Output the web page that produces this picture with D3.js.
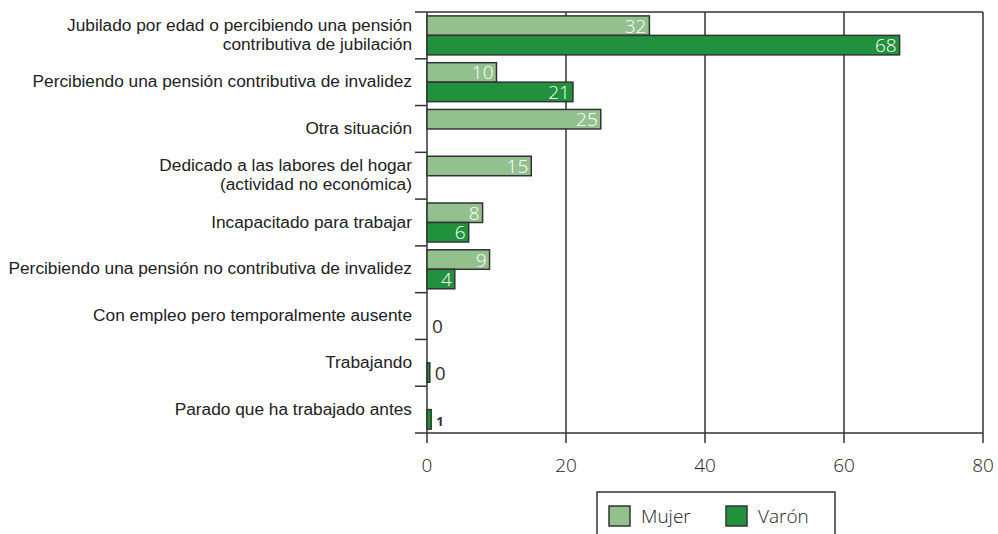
<!DOCTYPE html>
<html>
<head>
<meta charset="utf-8">
<script src="https://d3js.org/d3.v7.min.js"></script>
<style>
  body { margin: 0; background: #fff; }
  svg { display: block; }
  .cat { font-family: "Liberation Sans", Arial, sans-serif; font-size: 17.3px; fill: #222; }
  .num { font-family: "Open Sans", "DejaVu Sans", sans-serif; font-weight: 300; font-size: 19px; }
</style>
</head>
<body>
<div id="chart"></div>
<script>
// chart data
var categories = [
  ["Jubilado por edad o percibiendo una pensión", "contributiva de jubilación"],
  ["Percibiendo una pensión contributiva de invalidez"],
  ["Otra situación"],
  ["Dedicado a las labores del hogar", "(actividad no económica)"],
  ["Incapacitado para trabajar"],
  ["Percibiendo una pensión no contributiva de invalidez"],
  ["Con empleo pero temporalmente ausente"],
  ["Trabajando"],
  ["Parado que ha trabajado antes"]
];
var mujer = [32, 10, 25, 15, 8, 9, null, null, null];
var varon = [68, 21, null, null, 6, 4, 0, 0.4, 0.6];
var xTicks = [0, 20, 40, 60, 80];
var seriesNames = ["Mujer", "Varón"];

var width = 998, height = 534;
var colors = { "Mujer": "#93c18e", "Varón": "#22913d" };
var lineCol = "#333";

var svg = d3.select("#chart").append("svg")
  .attr("width", width)
  .attr("height", height);

var x = d3.scaleLinear().domain([0, 80]).range([427, 983]);
var y = d3.scaleBand().domain(d3.range(categories.length)).range([12, 433]);
var ySub = d3.scaleBand().domain(seriesNames).range([0, y.bandwidth()]).paddingOuter(0.2);

// vertical grid lines + bottom ticks
svg.append("g").selectAll("line")
  .data(xTicks)
  .enter().append("line")
  .attr("x1", d => x(d)).attr("x2", d => x(d))
  .attr("y1", 12).attr("y2", 443)
  .attr("stroke", lineCol).attr("stroke-width", 1.5);

// top and bottom lines
[12, 433].forEach(function (yy) {
  svg.append("line")
    .attr("x1", 415).attr("x2", x(80))
    .attr("y1", yy).attr("y2", yy)
    .attr("stroke", lineCol).attr("stroke-width", 1.5);
});

// category separators on left axis
svg.append("g").selectAll("line")
  .data(d3.range(1, categories.length))
  .enter().append("line")
  .attr("x1", 415).attr("x2", x(0))
  .attr("y1", d => y(d)).attr("y2", d => y(d))
  .attr("stroke", lineCol).attr("stroke-width", 1.5);

// x tick labels
svg.append("g").selectAll("text")
  .data(xTicks)
  .enter().append("text")
  .attr("class", "num")
  .attr("x", d => x(d))
  .attr("y", 472)
  .attr("text-anchor", "middle")
  .attr("fill", "#222")
  .text(d => d);

// category labels
categories.forEach(function (lines, i) {
  var cy = y(i) + y.bandwidth() / 2;
  var lh = 19;
  var t = svg.append("text")
    .attr("class", "cat")
    .attr("text-anchor", "end");
  lines.forEach(function (ln, j) {
    t.append("tspan")
      .attr("x", 412)
      .attr("y", cy + (j - (lines.length - 1) / 2) * lh + 5)
      .text(ln);
  });
});

// bars
var series = [
  { name: "Mujer", values: mujer },
  { name: "Varón", values: varon }
];

series.forEach(function (s) {
  var g = svg.append("g");
  s.values.forEach(function (v, i) {
    if (v === null) return;
    var by = y(i) + ySub(s.name);
    var bh = ySub.bandwidth();
    var w = x(v) - x(0);
    if (w > 0) {
      g.append("rect")
        .attr("x", x(0))
        .attr("y", by)
        .attr("width", w)
        .attr("height", bh)
        .attr("fill", colors[s.name])
        .attr("stroke", lineCol)
        .attr("stroke-width", 1.5);
    }
    var lbl = Math.round(v);
    if (w > 20) {
      g.append("text")
        .attr("class", "num")
        .attr("x", x(v) - 3)
        .attr("y", by + bh / 2 + 7)
        .attr("text-anchor", "end")
        .attr("fill", "#fff")
        .text(lbl);
    } else {
      g.append("text")
        .attr("class", "num")
        .attr("x", x(v) + 5)
        .attr("y", by + bh / 2 + 7)
        .attr("fill", "#333")
        .style("font-size", lbl === 1 ? "13px" : null)
        .style("font-weight", lbl === 1 ? "bold" : 400)
        .text(lbl);
    }
  });
});

// legend
var lg = svg.append("g");
lg.append("rect")
  .attr("x", 597).attr("y", 492)
  .attr("width", 238).attr("height", 60)
  .attr("fill", "#fff")
  .attr("stroke", lineCol).attr("stroke-width", 1.5);
var legendX = [609, 726];
seriesNames.forEach(function (name, i) {
  lg.append("rect")
    .attr("x", legendX[i]).attr("y", 506)
    .attr("width", 21).attr("height", 20)
    .attr("fill", colors[name])
    .attr("stroke", lineCol).attr("stroke-width", 1.5);
  lg.append("text")
    .attr("class", "num")
    .attr("x", legendX[i] + 32)
    .attr("y", 523)
    .attr("fill", "#222")
    .text(name);
});
</script>
</body>
</html>
